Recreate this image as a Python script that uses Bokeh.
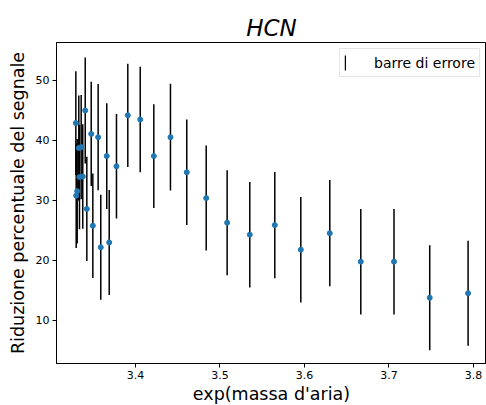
import numpy as np
from bokeh.plotting import figure
from bokeh.models import ColumnDataSource, FixedTicker, Legend, LegendItem, Range1d
from bokeh.embed import file_html
from bokeh.resources import INLINE

# exp(airmass) for each measurement
exp_airmass = [3.3294, 3.3298, 3.3310, 3.3329, 3.3337, 3.3357, 3.3376, 3.3405,
               3.3424, 3.3476, 3.3495, 3.3558, 3.3589, 3.3660, 3.3689, 3.3775,
               3.3909, 3.4056, 3.4217, 3.4414, 3.4607, 3.4837, 3.5085, 3.5353,
               3.5649, 3.5957, 3.6300, 3.6667, 3.7060, 3.7483, 3.7937]
# percentage signal reduction
reduction = [42.9, 30.8, 31.55, 38.75, 33.9, 38.9, 34.0, 45.0,
             28.6, 41.1, 25.8, 40.55, 22.2, 37.4, 23.0, 35.7,
             44.2, 43.5, 37.4, 40.55, 34.7, 30.4, 26.3, 24.3,
             25.9, 21.8, 24.55, 19.8, 19.8, 13.8, 14.55]
# uncertainty on the reduction
reduction_err = [8.65, 8.7, 8.7, 8.75, 8.7, 8.7, 8.7, 8.85,
                 8.7, 8.7, 8.7, 8.85, 8.75, 8.8, 8.75, 8.7,
                 8.6, 8.8, 8.65, 8.9, 8.8, 8.75, 8.75, 8.8,
                 8.85, 8.8, 8.85, 8.8, 8.8, 8.75, 8.75]

x_ticks = [3.4, 3.5, 3.6, 3.7, 3.8]
y_ticks = [10, 20, 30, 40, 50]

FONT = "DejaVu Sans"

src = ColumnDataSource(dict(
    x=exp_airmass,
    y=reduction,
    lo=[v - e for v, e in zip(reduction, reduction_err)],
    hi=[v + e for v, e in zip(reduction, reduction_err)],
))

p = figure(frame_width=430, frame_height=321, output_backend="svg",
           toolbar_location=None,
           x_range=Range1d(3.3065, 3.8155), y_range=Range1d(2.83, 56.33),
           min_border_left=56, min_border_right=0, min_border_top=42,
           min_border_bottom=42, title="HCN")

p.title.text_font = FONT
p.title.text_font_size = "23px"
p.title.text_font_style = "italic"
p.title.text_color = "black"
p.title.align = "center"
p.title.standoff = 4

p.background_fill_color = "white"
p.border_fill_color = "white"
p.outline_line_color = "black"
p.outline_line_width = 1
p.xgrid.visible = False
p.ygrid.visible = False

for ax in (p.xaxis[0], p.yaxis[0]):
    ax.axis_line_color = "black"
    ax.major_tick_line_color = "black"
    ax.major_tick_out = 4
    ax.major_tick_in = 0
    ax.minor_tick_line_color = None
    ax.major_label_text_font = FONT
    ax.major_label_text_font_size = "11px"
    ax.major_label_text_color = "black"
    ax.axis_label_text_font = FONT
    ax.axis_label_text_font_size = "17.5px"
    ax.axis_label_text_font_style = "normal"
    ax.axis_label_text_color = "black"
    ax.major_label_standoff = 3

p.xaxis.ticker = FixedTicker(ticks=x_ticks)
p.yaxis.ticker = FixedTicker(ticks=y_ticks)
p.xaxis.axis_label = "exp(massa d'aria)"
p.yaxis.axis_label = "Riduzione percentuale del segnale"
p.xaxis.axis_label_standoff = 2
p.yaxis.axis_label_standoff = 5

# error bars, then the measured points on top
p.segment(x0="x", y0="lo", x1="x", y1="hi", source=src,
          line_color="black", line_width=1.5)
p.scatter(x="x", y="y", source=src, size=5,
          fill_color="#1f77b4", line_color="#1f77b4")

# legend entry for the error bars: a thin vertical stroke
bar_key = p.vbar(x=[np.nan], top=[np.nan], bottom=[np.nan], width=0,
                 fill_color="black", line_color=None)
legend = Legend(items=[LegendItem(label="barre di errore", renderers=[bar_key])],
                location="top_right")
legend.label_text_font = FONT
legend.label_text_font_size = "14px"
legend.label_text_color = "black"
legend.glyph_width = 2
legend.glyph_height = 19
legend.label_standoff = 28
legend.label_height = 18
legend.padding = 4
legend.margin = 6
legend.border_line_color = "#cccccc"
legend.border_line_width = 1
legend.background_fill_alpha = 0.8
p.add_layout(legend)

open("out.html", "w").write(file_html(p, INLINE))
